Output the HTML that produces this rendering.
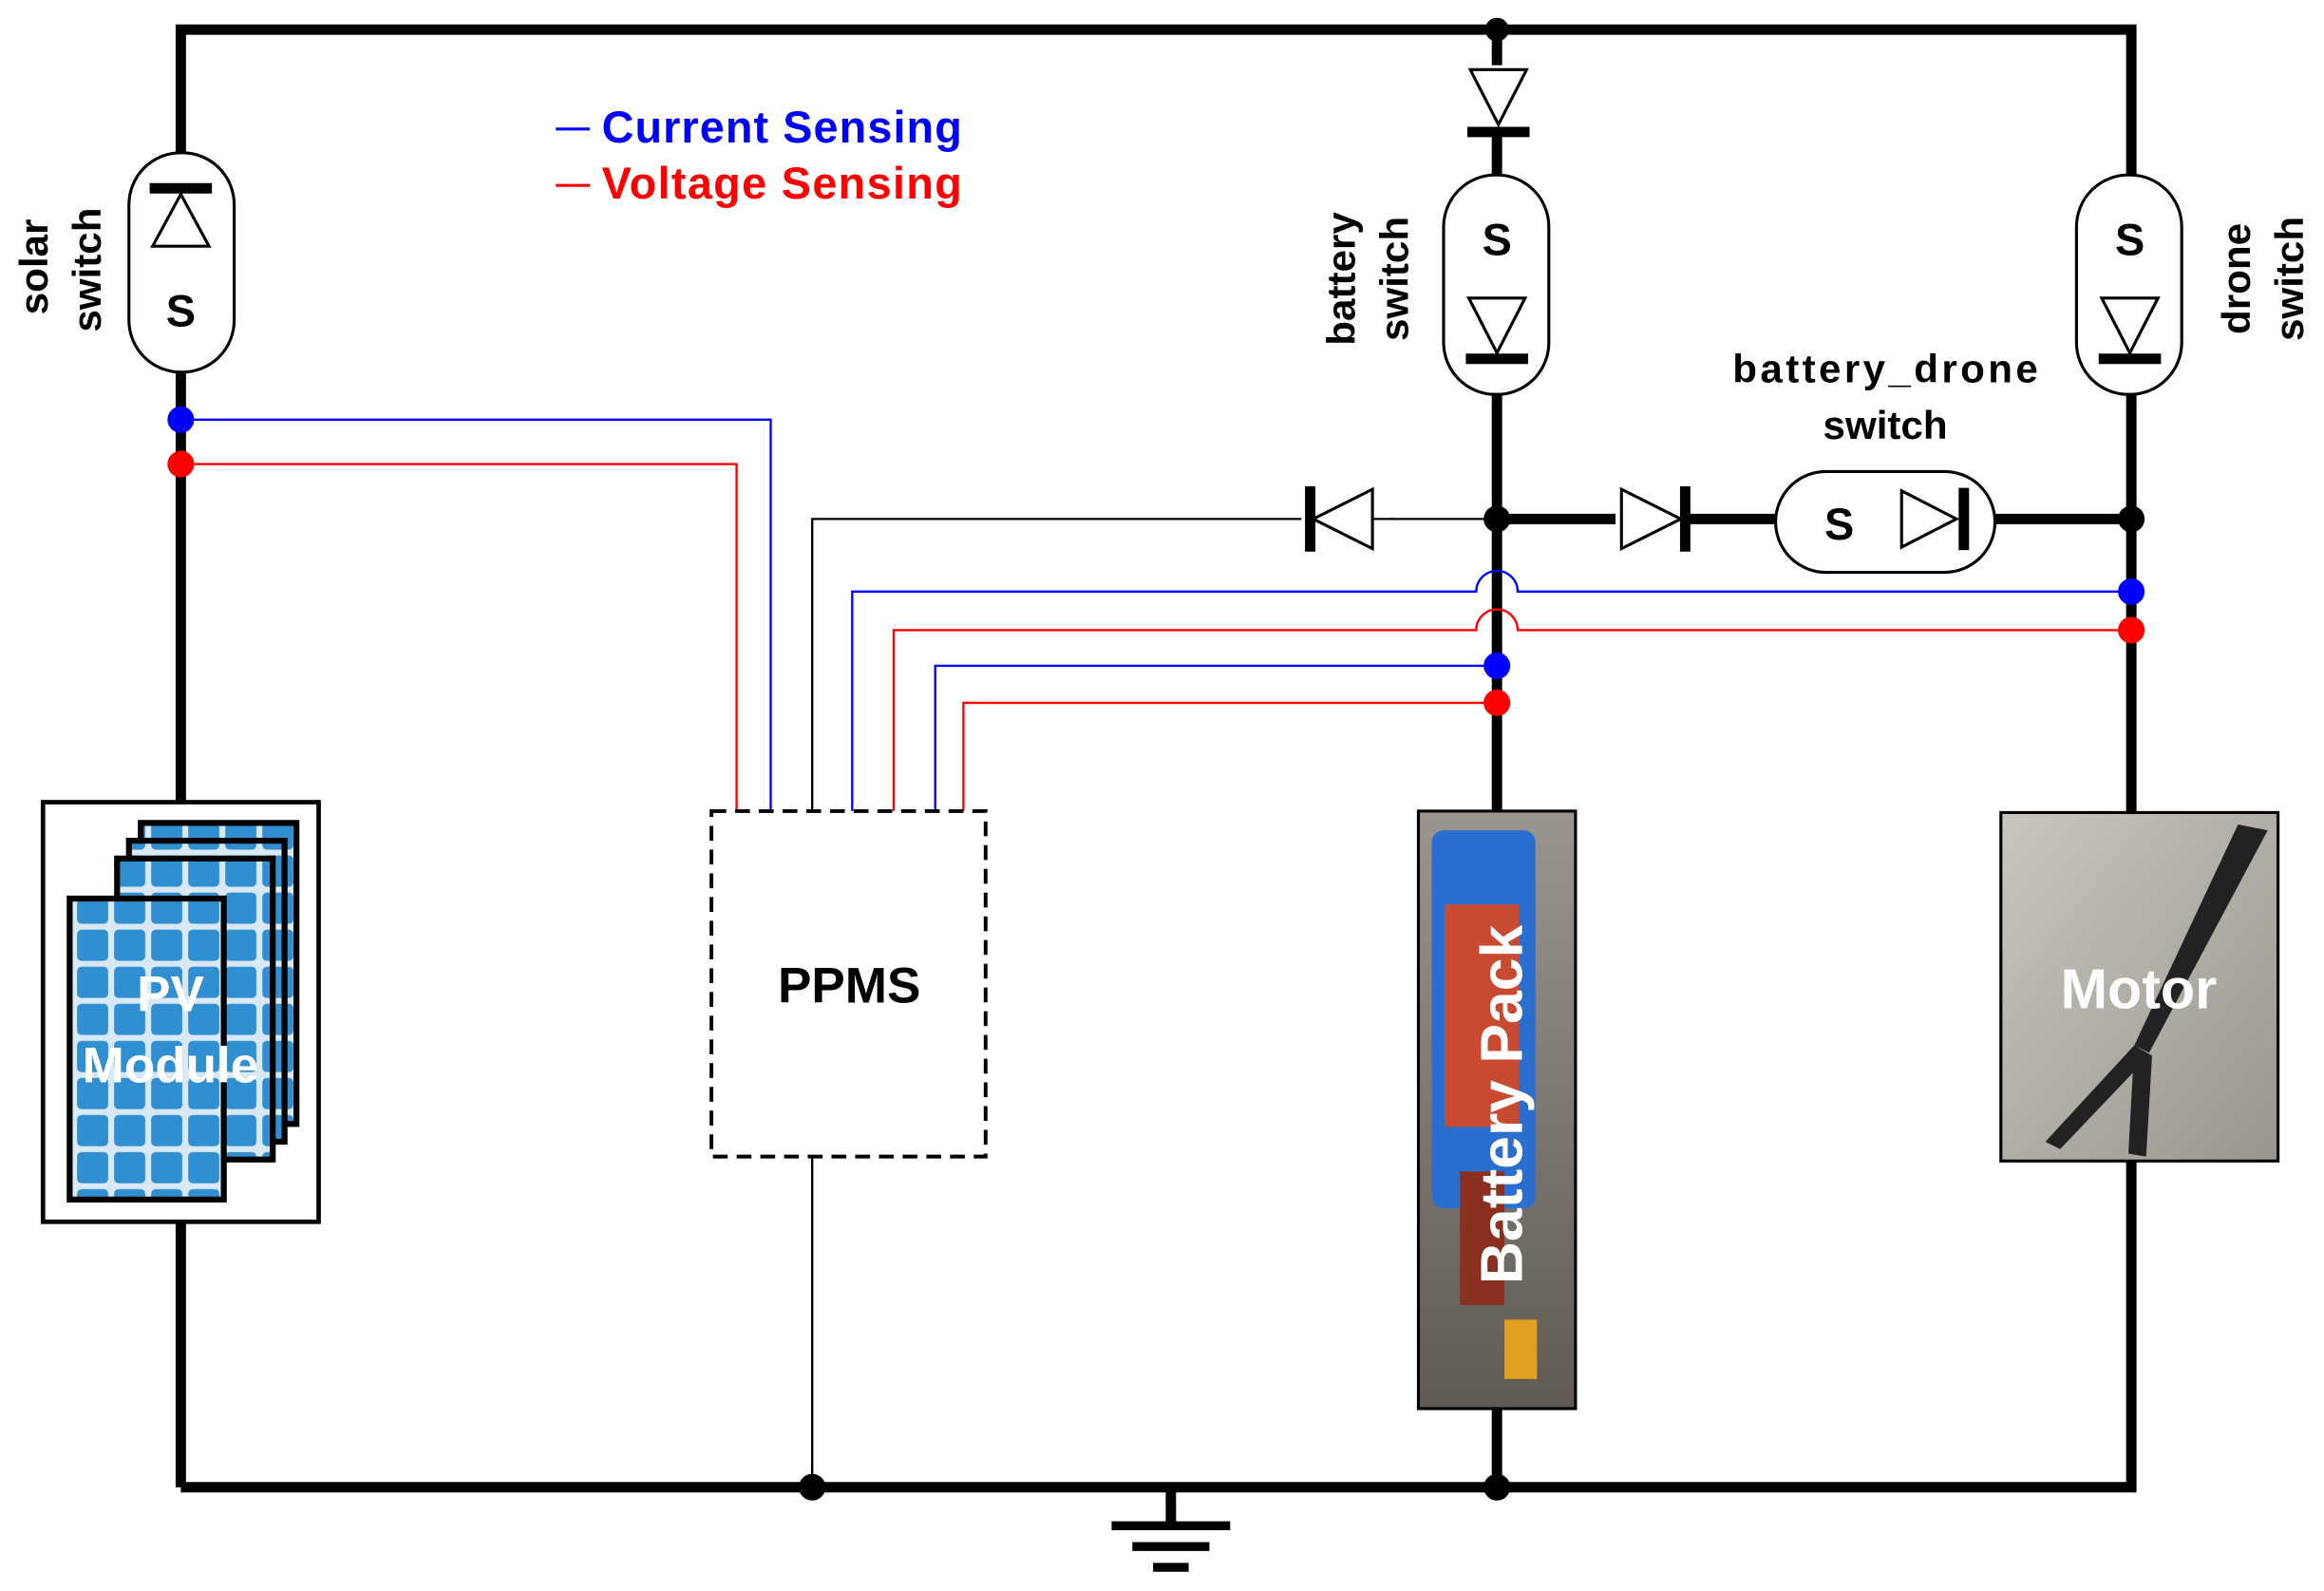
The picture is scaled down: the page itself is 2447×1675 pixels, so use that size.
<!DOCTYPE html>
<html><head><meta charset="utf-8"><style>
html,body{margin:0;padding:0;background:#fff;}
svg{display:block;}
text{font-family:"Liberation Sans",Arial,sans-serif;font-weight:bold;}
</style></head><body>
<svg width="2447" height="1675" viewBox="0 0 1568 1073" preserveAspectRatio="none" xmlns="http://www.w3.org/2000/svg">
<defs>
<pattern id="cells" x="0" y="0" width="25" height="25" patternUnits="userSpaceOnUse">
<rect width="25" height="25" fill="#d8e8f5"/><rect x="2" y="2" width="21" height="21" rx="3" fill="#2f8fd0"/>
</pattern>
<linearGradient id="floor" x1="0" y1="0" x2="1" y2="1"><stop offset="0" stop-color="#c9c6bf"/><stop offset="1" stop-color="#9a968f"/></linearGradient>
<linearGradient id="floor2" x1="0" y1="0" x2="0" y2="1"><stop offset="0" stop-color="#9a968e"/><stop offset="1" stop-color="#5f5b54"/></linearGradient>
</defs>
<rect width="1568" height="1073" fill="#fff"/>
<g stroke="#000" stroke-width="7" fill="none">
<polyline points="122,1003 122,20 1438,20 1438,1003 122,1003"/>
<line x1="1010" y1="20" x2="1010" y2="1003"/>
<line x1="1010" y1="350" x2="1438" y2="350"/>
<line x1="790" y1="1003" x2="790" y2="1027"/>
</g>
<g stroke="#000" stroke-width="6">
<line x1="750" y1="1029" x2="830" y2="1029"/>
<line x1="764" y1="1043" x2="816" y2="1043"/>
<line x1="778" y1="1057" x2="802" y2="1057"/>
</g>
<g stroke="#000" stroke-width="1.5" fill="none">
<polyline points="1010,350 548,350 548,547"/>
<line x1="548" y1="780" x2="548" y2="1003"/>
</g>
<rect x="878" y="325" width="60" height="50" fill="#fff"/>
<polygon points="926,330 926,370 886,350" fill="#fff" stroke="#000" stroke-width="2"/>
<line x1="884" y1="328" x2="884" y2="372" stroke="#000" stroke-width="7"/>
<line x1="926" y1="350" x2="940" y2="350" stroke="#000" stroke-width="1.5"/>
<rect x="1090" y="328" width="50" height="44" fill="#fff"/>
<polygon points="1094,330 1094,370 1134,350" fill="#fff" stroke="#000" stroke-width="2"/>
<line x1="1137" y1="328" x2="1137" y2="372" stroke="#000" stroke-width="7"/>
<rect x="990" y="44" width="42" height="46" fill="#fff"/>
<polygon points="992,47 1030,47 1011,84" fill="#fff" stroke="#000" stroke-width="2"/>
<line x1="990" y1="89" x2="1032" y2="89" stroke="#000" stroke-width="7"/>
<g stroke="#000" stroke-width="2" fill="#fff">
<rect x="87" y="103" width="71" height="148" rx="35"/>
<rect x="974" y="118" width="71" height="148" rx="35"/>
<rect x="1401" y="118" width="71" height="148" rx="35"/>
<rect x="1198" y="318" width="148" height="68" rx="34"/>
</g>
<g fill="#fff" stroke="#000" stroke-width="2">
<polygon points="122,131 103,166 141,166"/>
<polygon points="991,201 1029,201 1010,238"/>
<polygon points="1418,201 1456,201 1437,238"/>
<polygon points="1283,331 1283,369 1320,350"/>
</g>
<g stroke="#000" stroke-width="7">
<line x1="101" y1="127" x2="143" y2="127"/>
<line x1="989" y1="242" x2="1031" y2="242"/>
<line x1="1416" y1="242" x2="1458" y2="242"/>
<line x1="1325" y1="329" x2="1325" y2="371"/>
</g>
<g font-size="30" text-anchor="middle" fill="#000">
<text x="122" y="220">S</text>
<text x="1010" y="172">S</text>
<text x="1437" y="172">S</text>
<text x="1241" y="364">S</text>
</g>
<g font-size="27" fill="#000" text-anchor="middle">
<text transform="translate(32,180) rotate(-90)">solar</text>
<text transform="translate(68,182) rotate(-90)">switch</text>
<text transform="translate(914,188) rotate(-90)">battery</text>
<text transform="translate(950,188) rotate(-90)">switch</text>
<text transform="translate(1518,188) rotate(-90)">drone</text>
<text transform="translate(1554,188) rotate(-90)">switch</text>
<text x="1272" y="258" textLength="206">battery_drone</text>
<text x="1272" y="296">switch</text>
</g>
<line x1="375" y1="87" x2="398" y2="87" stroke="#0000ff" stroke-width="2"/>
<line x1="375" y1="125" x2="398" y2="125" stroke="#ff0000" stroke-width="2"/>
<text x="406" y="96" font-size="30" fill="#0000ff" textLength="243">Current Sensing</text>
<text x="406" y="134" font-size="30" fill="#ff0000" textLength="243">Voltage Sensing</text>
<g fill="none" stroke-width="1.5">
<polyline points="122,283 520,283 520,547" stroke="#0000ff"/>
<polyline points="122,313 497,313 497,547" stroke="#ff0000"/>
<path d="M1438,399 L1024,399 A14,14 0 0 0 996,399 L575,399 L575,547" stroke="#0000ff"/>
<path d="M1438,425 L1024,425 A14,14 0 0 0 996,425 L603,425 L603,547" stroke="#ff0000"/>
<polyline points="1010,449 631,449 631,547" stroke="#0000ff"/>
<polyline points="1010,474 650,474 650,547" stroke="#ff0000"/>
</g>
<g>
<circle cx="122" cy="283" r="9" fill="#0000ff"/>
<circle cx="122" cy="313" r="9" fill="#ff0000"/>
<circle cx="1438" cy="399" r="9" fill="#0000ff"/>
<circle cx="1438" cy="425" r="9" fill="#ff0000"/>
<circle cx="1010" cy="449" r="9" fill="#0000ff"/>
<circle cx="1010" cy="474" r="9" fill="#ff0000"/>
<circle cx="1010" cy="20" r="8" fill="#000"/>
<circle cx="1010" cy="350" r="9" fill="#000"/>
<circle cx="1438" cy="350" r="9" fill="#000"/>
<circle cx="548" cy="1003" r="9" fill="#000"/>
<circle cx="1010" cy="1003" r="9" fill="#000"/>
</g>
<rect x="480" y="547" width="185" height="233" fill="#fff" stroke="#000" stroke-width="2.5" stroke-dasharray="10,6"/>
<text x="573" y="676" font-size="34" text-anchor="middle">PPMS</text>
<rect x="29" y="541" width="186" height="283" fill="#fff" stroke="#000" stroke-width="3"/>
<rect x="95" y="555" width="105" height="203" fill="url(#cells)" stroke="#000" stroke-width="4"/>
<rect x="87" y="567" width="105" height="203" fill="url(#cells)" stroke="#000" stroke-width="4"/>
<rect x="79" y="579" width="105" height="203" fill="url(#cells)" stroke="#000" stroke-width="4"/>
<rect x="47" y="606" width="104" height="203" fill="url(#cells)" stroke="#000" stroke-width="4"/>
<text x="115" y="682" font-size="34" fill="#fff" text-anchor="middle">PV</text>
<text x="115" y="730" font-size="34" fill="#fff" text-anchor="middle">Module</text>
<rect x="957" y="547" width="106" height="403" fill="url(#floor2)" stroke="#000" stroke-width="2"/>
<rect x="966" y="560" width="70" height="255" rx="8" fill="#2a6fd0"/>
<rect x="975" y="610" width="50" height="150" fill="#c84a30"/>
<rect x="985" y="790" width="30" height="90" fill="#8a3020"/>
<rect x="1015" y="890" width="22" height="40" fill="#e0a020"/>
<text transform="translate(1027,745) rotate(-90)" font-size="40" fill="#fff" text-anchor="middle">Battery Pack</text>
<rect x="1350" y="548" width="187" height="235" fill="url(#floor)" stroke="#000" stroke-width="2"/>
<polygon points="1510,556 1530,560 1450,710 1440,705" fill="#222"/>
<polygon points="1440,705 1452,712 1448,780 1436,778" fill="#222"/>
<polygon points="1440,705 1450,712 1390,775 1380,770" fill="#222"/>
<text x="1443" y="680" font-size="38" fill="#fff" text-anchor="middle">Motor</text>
</svg>
</body></html>
